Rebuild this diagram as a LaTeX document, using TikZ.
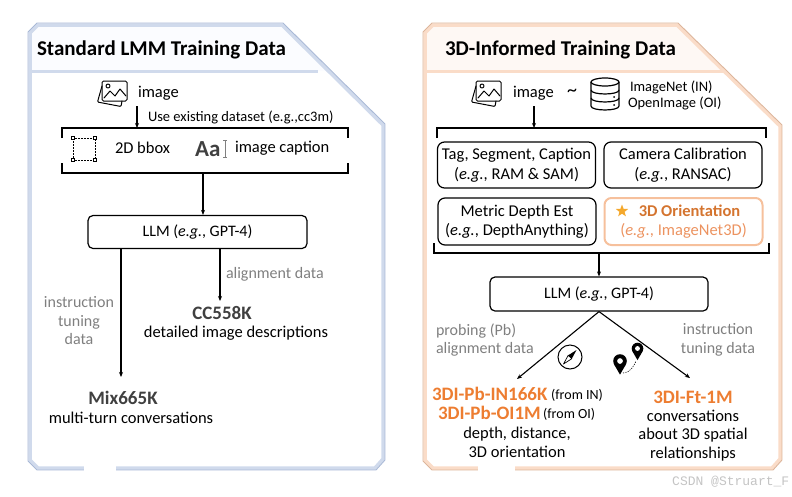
\documentclass[tikz,border=0pt]{standalone}
\usepackage{fontspec}
\setmainfont{Carlito}
\newfontfamily\wmfont{Liberation Mono}
\usetikzlibrary{arrows.meta,shapes.geometric}
\definecolor{orng}{HTML}{ED7D31}
\definecolor{orngd}{HTML}{D4742F}
\definecolor{orngl}{HTML}{EC9360}
\definecolor{orbox}{HTML}{F6C09C}
\definecolor{glab}{HTML}{7F7F7F}
\definecolor{dgray}{HTML}{404040}
\definecolor{bluel}{HTML}{D0DAEC}
\definecolor{blued}{HTML}{A9B9D6}
\definecolor{bluef}{HTML}{FBFCFF}
\definecolor{peachl}{HTML}{FADCC8}
\definecolor{peachd}{HTML}{DDB59A}
\definecolor{peachf}{HTML}{FEF8F4}
\definecolor{starc}{HTML}{F4A82C}
\definecolor{wmc}{HTML}{C4C4C4}
\tikzset{
 txt/.style={inner sep=0pt, outer sep=0pt, align=center, font=\fontsize{16.5}{19}\selectfont},
 sm/.style={inner sep=0pt, outer sep=0pt, font=\fontsize{14.5}{17}\selectfont},
 glabel/.style={inner sep=0pt, outer sep=0pt, align=center, text=glab, font=\fontsize{16}{18.5}\selectfont},
 big/.style={inner sep=0pt, outer sep=0pt, font=\fontsize{19}{22}\selectfont\bfseries},
 ttl/.style={inner sep=0pt, outer sep=0pt, anchor=west, font=\fontsize{21}{24}\selectfont\bfseries},
 arr/.style={-{Stealth[length=5pt,width=4pt]}, line width=1.1pt},
 brk/.style={line width=1.3pt},
 llmbox/.style={draw, line width=1.2pt, rounded corners=5pt, minimum width=219pt, minimum height=33pt, inner sep=0pt, font=\fontsize{16}{19}\selectfont},
 tbox/.style={draw, line width=1.2pt, rounded corners=7pt, minimum width=158pt, minimum height=46pt, inner sep=0pt, align=center, font=\fontsize{16.5}{19.5}\selectfont},
 icon/.style={line width=1pt, line join=round, line cap=round},
}
\newcommand\imgicon[2]{%
 \begin{scope}[shift={(#1,#2)}, icon]
  \draw[rounded corners=1.5pt] (5,0) rectangle (30,20);
  \draw (11,5) circle[radius=2];
  \draw (7,17) -- (13,10) -- (18,15) -- (23,8) -- (29,15);
  \draw[rounded corners=1pt] (5,5) -- (0.5,21) -- (24,25.5) -- (25,20);
 \end{scope}}
\newcommand\mappin[3]{%
 \fill (#1,#2) circle[radius=#3];
 \fill ({#1-0.87*#3},{#2+0.5*#3}) -- (#1,{#2+2*#3}) -- ({#1+0.87*#3},{#2+0.5*#3}) -- cycle;
 \fill[white] (#1,#2) circle[radius={0.42*#3}];}
\begin{document}
\begin{tikzpicture}[x=1pt,y=-1pt]
\useasboundingbox (0,0) rectangle (792,496);
% ---------- panels ----------
\fill[bluef] (30,33) -- (38,25) -- (282,25) -- (328,71) -- (30,71) -- cycle;
\fill[peachf] (425,33) -- (433,25) -- (677,25) -- (724,71) -- (425,71) -- cycle;
\draw[line width=3.5pt, bluel] (30,33) -- (38,25) -- (282,25) -- (383,125) -- (383,459) -- (375,468) -- (38,468) -- (30,460) -- cycle;
\draw[line width=0.9pt, blued] (28,32) -- (37,23) -- (283,23) -- (385,124) -- (385,460) -- (376,470) -- (37,470) -- (28,461) -- cycle;
\draw[line width=3.5pt, peachl] (425,33) -- (433,25) -- (677,25) -- (780,126) -- (780,459) -- (772,468) -- (433,468) -- (425,460) -- cycle;
\draw[line width=0.9pt, peachd] (423,32) -- (432,23) -- (678,23) -- (782,125) -- (782,460) -- (773,470) -- (432,470) -- (423,461) -- cycle;
\fill[white] (84,464) rectangle (116,474);
\fill[white] (478,464) rectangle (515,474);
\draw[line width=3pt, bluel] (31,71) -- (318,71);
\draw[line width=3pt, peachl] (426,71) -- (723,71);
% ---------- left panel ----------
\node[ttl] (t1) at (37,50) {Standard LMM Training Data};
\imgicon{97}{81}
\node[txt, anchor=west] (img1) at (138,93) {image};
\coordinate (a1) at (137,106);
\node[sm, anchor=west] (use) at (148,117) {Use existing dataset (e.g.,cc3m)};
\node[minimum width=286pt, minimum height=45pt, inner sep=0pt, outer sep=0pt] (src) at (205,150.5) {};
\draw[brk] ([yshift=-10pt]src.north west) -- (src.north west) -- (src.north east) -- ([yshift=-10pt]src.north east);
\draw[brk] ([yshift=10pt]src.south west) -- (src.south west) -- (src.south east) -- ([yshift=10pt]src.south east);
\draw[arr] (a1) -- (a1 |- src.north);
\draw[dash pattern=on 1.6pt off 1.4pt, line width=0.6pt] (73,138) rectangle (95,160);
\foreach \p in {(73,138),(95,138),(73,160),(95,160)}
  \draw[line width=0.6pt, fill=white] \p ++(-1.7,-1.7) rectangle ++(3.4,3.4);
\node[txt, anchor=west] (bb) at (115,148) {2D bbox};
\node[inner sep=0pt, anchor=west, font=\fontsize{23}{25}\selectfont\bfseries, text=dgray] (aa) at (195,149) {Aa};
\draw[line width=0.7pt, gray] (225,140) -- (225,157) (223,140) -- (227,140) (223,157) -- (227,157);
\node[txt, anchor=west] (cap) at (235,148) {image caption};
\node[llmbox] (llm1) at (197.5,232) {LLM (\textit{e.g.}, GPT-4)};
\coordinate (a2) at (203,173);
\draw[arr] (a2) -- (a2 |- llm1.north);
\coordinate (m1) at (121,377);
\coordinate (c1) at (220,301);
\draw[arr] (m1 |- llm1.south) -- (m1);
\draw[arr] (c1 |- llm1.south) -- (c1);
\node[glabel, anchor=west] (al) at (226,274) {alignment data};
\node[glabel] (itd) at (79,321) {instruction\\tuning\\data};
\node[big, text=dgray] (cc) at (222,313) {CC558K};
\node[txt] (ccd) at (236,333) {detailed image descriptions};
\node[big, text=dgray] (mix) at (123,398) {Mix665K};
\node[txt] (mixd) at (131,418) {multi-turn conversations};
% ---------- right panel ----------
\node[ttl] (t2) at (445,50) {3D-Informed Training Data};
\imgicon{471}{81}
\node[txt, anchor=west] (img2) at (513,93) {image};
\node[txt, font=\fontsize{20}{22}\selectfont] (tl) at (572,93) {\textasciitilde};
\begin{scope}[shift={(590,78)}, line width=1.2pt]
  \draw (15,4) ellipse[x radius=14, y radius=4];
  \draw (1,4) -- (1,28) .. controls (1,33.3) and (29,33.3) .. (29,28) -- (29,4);
  \draw (1,12) .. controls (1,17.3) and (29,17.3) .. (29,12);
  \draw (1,20) .. controls (1,25.3) and (29,25.3) .. (29,20);
  \fill (24,19) circle[radius=1];
  \fill (24,27) circle[radius=1];
\end{scope}
\node[sm, anchor=west] (inet) at (630,87) {ImageNet (IN)};
\node[sm, anchor=west] (oimg) at (628,103) {OpenImage (OI)};
\coordinate (a3) at (534,106);
\coordinate (tbl) at (437,128);
\coordinate (tbr) at (766,128);
\draw[brk] (tbl) ++(0,10) -- (tbl) -- (tbr) -- ++(0,10);
\draw[arr] (a3) -- (a3 |- tbl);
\node[tbox] (b1) at (516.5,165) {Tag, Segment, Caption\\(\textit{e.g.}, RAM \& SAM)};
\node[tbox] (b2) at (683,165) {Camera Calibration\\(\textit{e.g.}, RANSAC)};
\node[tbox, minimum height=47pt] (b3) at (517,221.5) {Metric Depth Est\\(\textit{e.g.}, DepthAnything)};
\node[tbox, minimum height=47pt, draw=orbox, line width=2pt] (b4) at (683.5,221.5) {\hspace*{12pt}{\bfseries\color{orngd}3D Orientation}\\{\color{orngl}(\textit{e.g.}, ImageNet3D)}};
\node[star, star points=5, star point ratio=2.4, fill=starc, minimum size=13pt, inner sep=0pt] (st) at (622,211) {};
\coordinate (bbl) at (434,253);
\coordinate (bbr) at (769,253);
\draw[brk] (bbl) ++(0,-10) -- (bbl) -- (bbr) -- ++(0,-10);
\node[llmbox, minimum width=218pt, minimum height=34pt] (llm2) at (599,294) {LLM (\textit{e.g.}, GPT-4)};
\coordinate (a4) at (599,253);
\draw[arr] (a4) -- (llm2.north);
\coordinate (pl) at (517,379);
\coordinate (pr) at (690,378);
\draw[arr] (llm2.south) -- (pl);
\draw[arr] (llm2.south) -- (pr);
\node[glabel, align=left, anchor=west] (pb) at (436,340) {probing (Pb)\\alignment data};
\node[glabel] (itd2) at (718,340) {instruction\\tuning data};
% compass
\draw[line width=1pt] (570,357) circle[radius=12];
\fill (576.5,350) -- (571.8,358.7) -- (568.2,355.3) -- cycle;
\draw[line width=0.7pt, line join=round] (563.5,364) -- (571.8,358.7) -- (568.2,355.3) -- cycle;
% pins
\mappin{620}{361}{6.8}
\mappin{637.5}{348.5}{5.8}
\draw[line width=0.6pt, dash pattern=on 1.2pt off 1.2pt] (623,373) .. controls (630,373) and (634,366) .. (636,361);
\node[big, text=orng, anchor=west] (pin) at (432,394) {3DI-Pb-IN166K};
\node[inner sep=0pt, anchor=west, font=\fontsize{14}{16}\selectfont] (fin) at (551,395) {(from IN)};
\node[big, text=orng, anchor=west] (poi) at (438,413) {3DI-Pb-OI1M};
\node[inner sep=0pt, anchor=west, font=\fontsize{14}{16}\selectfont] (foi) at (543,414) {(from OI)};
\node[txt] (dd) at (517,442.5) {depth, distance,\\3D orientation};
\node[big, text=orng] (ft) at (693,397) {3DI-Ft-1M};
\node[txt, font=\fontsize{16.5}{18.5}\selectfont] (ftd) at (693,435.5) {conversations\\about 3D spatial\\relationships};
\node[anchor=west, inner sep=0pt, text=wmc, font=\wmfont\fontsize{13}{15}\selectfont] (wm) at (672,482) {CSDN @Struart\_F};
\end{tikzpicture}
\end{document}
